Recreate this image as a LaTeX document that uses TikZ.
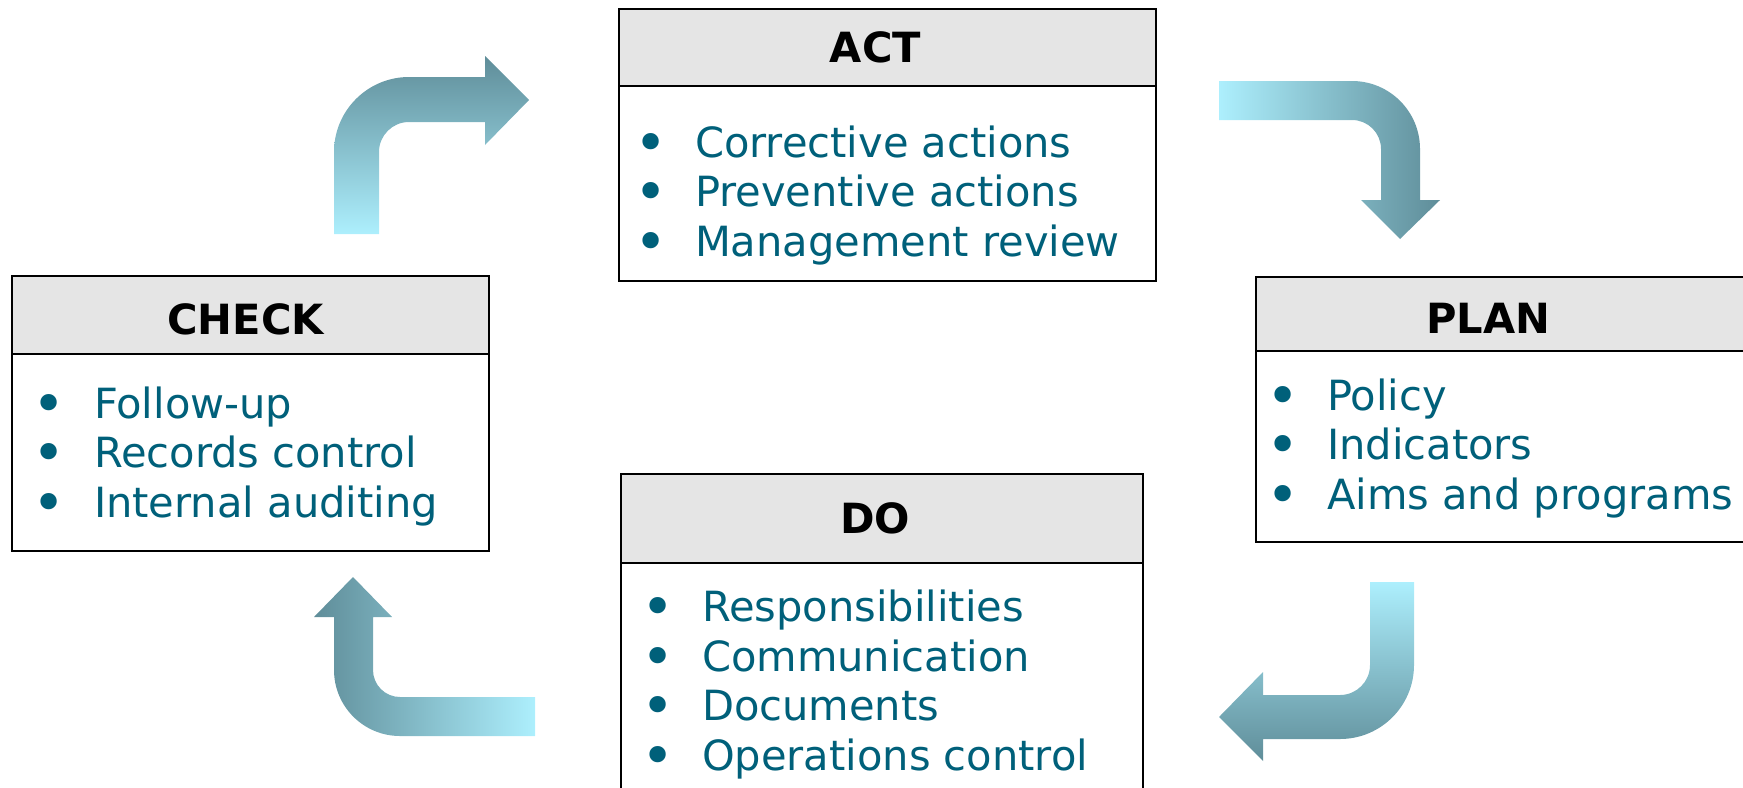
\documentclass[tikz,border=0pt]{standalone}
\usepackage{fontspec}
\setmainfont{DejaVu Sans}
\usepackage{tikz}
\usepackage{xcolor}
\usetikzlibrary{positioning, calc}
\definecolor{cText}{RGB}{0,96,122}
\definecolor{cHead}{RGB}{229,229,229}
\definecolor{cLight}{RGB}{173,239,253}
\definecolor{cDark}{RGB}{95,141,153}
\newcommand{\itm}{\makebox[28.5pt][l]{\hspace*{-2pt}\smash{\raisebox{-2.5pt}{\scalebox{1.35}{\textbullet}}}}}
\tikzset{
    head/.style ={rectangle, draw=black, line width=1.2pt, fill=cHead, outer sep=0pt, inner sep=0pt, anchor=north west, font=\bfseries\fontsize{20.8}{24.75}\selectfont},
    body/.style ={rectangle, draw=black, line width=1.2pt, fill=white, outer sep=0pt, inner sep=0pt},
    items/.style={align=left, inner sep=0pt, outer sep=0pt, text=cText, anchor=base west, font=\fontsize{20.8}{24.75}\selectfont},
}

\begin{document}
\begin{tikzpicture}[x=0.5pt, y=-0.5pt]
                \useasboundingbox (0,0) rectangle (1743,787);
                \node[head, minimum width=268.5pt, minimum height=38.5pt] (actHead) at (619,9) {ACT\hspace*{12pt}};
                \node[body, minimum width=268.5pt, minimum height=97.5pt, below=0pt of actHead] (actBody) {};
                \node[items] (actList) at ($(actBody.north west)+(19,170)$) {\itm Corrective actions\\ \itm Preventive actions\\ \itm Management review};
                \node[head, minimum width=253pt, minimum height=37pt, text height=19pt, text depth=0pt] (planHead) at (1256,277) {PLAN\hspace*{21pt}};
                \node[body, minimum width=253pt, minimum height=95.5pt, below=0pt of planHead] (planBody) {};
                \node[items] (planList) at ($(planBody.north west)+(14,158)$) {\itm Policy\\ \itm Indicators\\ \itm Aims and programs};
                \node[head, minimum width=261pt, minimum height=44.5pt] (doHead) at (621,474) {DO\hspace*{7pt}};
                \node[body, minimum width=261pt, minimum height=160pt, below=0pt of doHead] (doBody) {};
                \node[items] (doList) at ($(doBody.north west)+(24,207)$) {\itm Responsibilities\\ \itm Communication\\ \itm Documents\\ \itm Operations control};
                \node[head, minimum width=238.5pt, minimum height=39pt, text height=19pt, text depth=0pt] (checkHead) at (12,276) {CHECK\hspace*{5pt}};
                \node[body, minimum width=238.5pt, minimum height=98.5pt, below=0pt of checkHead] (checkBody) {};
                \node[items] (checkList) at ($(checkBody.north west)+(25,163)$) {\itm Follow-up\\ \itm Records control\\ \itm Internal auditing};
                \shade[top color=cDark, bottom color=cLight] (334,234) -- (334,152) arc[start angle=180, end angle=270, radius=75] -- (485,77) -- (485,56) -- (529,100) -- (485,145) -- (485,122) -- (409,122) arc[start angle=270, end angle=180, radius=30] -- (379,234) -- cycle;
                \shade[left color=cLight, right color=cDark] (1219,81) -- (1352,81) arc[start angle=270, end angle=360, radius=68] -- (1420,200) -- (1440,200) -- (1400,239) -- (1361,200) -- (1381,200) -- (1381,149) arc[start angle=0, end angle=-90, radius=29] -- (1219,120) -- cycle;
                \shade[top color=cLight, bottom color=cDark] (1414,582) -- (1414,665) arc[start angle=0, end angle=90, radius=74] -- (1263,739) -- (1263,761) -- (1219,717) -- (1263,672) -- (1263,695) -- (1340,695) arc[start angle=90, end angle=0, radius=30] -- (1370,582) -- cycle;
                \shade[left color=cDark, right color=cLight] (535,736) -- (400,736) arc[start angle=90, end angle=180, radius=66] -- (334,617) -- (314,617) -- (353,577) -- (392,617) -- (373,617) -- (373,670) arc[start angle=180, end angle=90, radius=27] -- (535,697) -- cycle;
            \end{tikzpicture}
\end{document}
